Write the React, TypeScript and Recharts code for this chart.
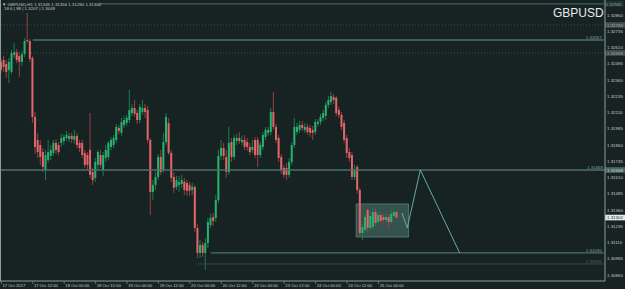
import React from "react";
import {
  ComposedChart,
  Bar,
  Line,
  XAxis,
  YAxis,
  ReferenceLine,
  ReferenceArea,
} from "recharts";

// GBPUSD H1, 17 Oct 2017 00:00 -> 25 Oct 2017 07:00 (152 bars)
const opens = [
  1.32499, 1.32514, 1.32483, 1.32437, 1.32422, 1.32552, 1.32575, 1.32545, 1.32499, 1.3256,
  1.32668, 1.3266, 1.32529, 1.32076, 1.31899, 1.3186, 1.31806, 1.31668, 1.31745, 1.31776,
  1.31799, 1.31876, 1.3186, 1.31876, 1.31891, 1.31914, 1.31906, 1.3193, 1.31899, 1.3193,
  1.31876, 1.31876, 1.31799, 1.31783, 1.31822, 1.31653, 1.31607, 1.31707, 1.31783, 1.31668,
  1.3176, 1.31768, 1.31845, 1.3186, 1.31899, 1.31991, 1.31953, 1.32014, 1.32029, 1.32052,
  1.32106, 1.32145, 1.32106, 1.32052, 1.32114, 1.32145, 1.32129, 1.31899, 1.31499, 1.31553,
  1.31614, 1.31768, 1.31668, 1.31883, 1.32029, 1.31799, 1.31614, 1.31537, 1.31553, 1.3156,
  1.31576, 1.31568, 1.31553, 1.31514, 1.31537, 1.31222, 1.3103, 1.31091, 1.3103, 1.31106,
  1.31245, 1.31306, 1.31299, 1.31437, 1.31776, 1.31837, 1.31768, 1.31653, 1.31883, 1.31768,
  1.31891, 1.31914, 1.31883, 1.31899, 1.31883, 1.31845, 1.31822, 1.31899, 1.31899, 1.31783,
  1.31845, 1.31922, 1.31953, 1.3196, 1.32114, 1.31999, 1.31914, 1.31768, 1.31684, 1.31684,
  1.3163, 1.3173, 1.3186, 1.3196, 1.31976, 1.32014, 1.31976, 1.31999, 1.31991, 1.31976,
  1.3196, 1.32022, 1.32037, 1.32068, 1.32083, 1.32168, 1.32191, 1.32229, 1.32222, 1.32129,
  1.32091, 1.32029, 1.31914, 1.31806, 1.31783, 1.31614, 1.31691, 1.31514, 1.31183, 1.31206,
  1.3136, 1.31222, 1.31229, 1.31345, 1.31268, 1.31322, 1.31306, 1.31283, 1.31306, 1.31268,
  1.31314, 1.31345,
];
const highs = [
  1.32529, 1.32545, 1.32514, 1.32529, 1.32591, 1.32645, 1.32599, 1.32575, 1.32583, 1.32683,
  1.32875, 1.32675, 1.32545, 1.32114, 1.31953, 1.31899, 1.31837, 1.31822, 1.31899, 1.3186,
  1.31899, 1.31906, 1.31883, 1.31945, 1.31945, 1.31968, 1.31953, 1.31953, 1.31976, 1.31953,
  1.31899, 1.31899, 1.31822, 1.31806, 1.32106, 1.31684, 1.3176, 1.31822, 1.31822, 1.31806,
  1.3186, 1.31891, 1.31922, 1.31937, 1.32022, 1.32014, 1.32068, 1.32083, 1.32091, 1.32283,
  1.32176, 1.32206, 1.32129, 1.32176, 1.32206, 1.32176, 1.3216, 1.31914, 1.31591, 1.31653,
  1.31791, 1.31822, 1.31953, 1.32106, 1.32068, 1.31822, 1.31653, 1.31622, 1.31622, 1.3163,
  1.31607, 1.31591, 1.31576, 1.31568, 1.31553, 1.31253, 1.31129, 1.31114, 1.31145, 1.31299,
  1.3133, 1.31337, 1.31476, 1.31822, 1.31899, 1.31876, 1.31822, 1.31999, 1.31914, 1.31937,
  1.31945, 1.3196, 1.3193, 1.31937, 1.31914, 1.31876, 1.31899, 1.31922, 1.31922, 1.31883,
  1.3196, 1.31999, 1.31999, 1.32145, 1.32268, 1.32022, 1.31937, 1.31791, 1.31707, 1.31722,
  1.3176, 1.31883, 1.32068, 1.32029, 1.32045, 1.32045, 1.32029, 1.32022, 1.32014, 1.32006,
  1.3206, 1.3206, 1.32099, 1.32129, 1.32191, 1.32237, 1.32268, 1.32252, 1.32237, 1.32153,
  1.32114, 1.32052, 1.31937, 1.31837, 1.31806, 1.31707, 1.31707, 1.3153, 1.31253, 1.31337,
  1.31376, 1.31345, 1.31376, 1.31368, 1.31345, 1.31345, 1.3133, 1.3133, 1.3133, 1.3136,
  1.31368, 1.31356,
];
const lows = [
  1.32414, 1.32422, 1.32376, 1.32337, 1.32406, 1.32529, 1.32491, 1.32383, 1.32468, 1.32537,
  1.32645, 1.32499, 1.32029, 1.31791, 1.3176, 1.31707, 1.31653, 1.31591, 1.31722, 1.31745,
  1.31776, 1.31791, 1.31783, 1.31845, 1.3186, 1.31891, 1.31883, 1.31876, 1.31868, 1.31837,
  1.31806, 1.3176, 1.31684, 1.31668, 1.31607, 1.31553, 1.31576, 1.31668, 1.31684, 1.31622,
  1.3173, 1.31745, 1.31822, 1.31837, 1.31876, 1.31945, 1.3193, 1.31991, 1.32006, 1.32029,
  1.32083, 1.32076, 1.32022, 1.32029, 1.32091, 1.32068, 1.31876, 1.31322, 1.31437, 1.31514,
  1.31591, 1.3163, 1.31645, 1.3186, 1.31783, 1.31576, 1.31491, 1.31514, 1.31499, 1.3153,
  1.31476, 1.31468, 1.31468, 1.31476, 1.31191, 1.30991, 1.30991, 1.30999, 1.30899, 1.31068,
  1.31222, 1.31237, 1.31268, 1.31414, 1.31745, 1.31745, 1.31607, 1.3163, 1.3173, 1.31745,
  1.3186, 1.31868, 1.3186, 1.31822, 1.31814, 1.31783, 1.31799, 1.3176, 1.31691, 1.3176,
  1.31822, 1.31899, 1.3193, 1.31937, 1.31976, 1.31876, 1.3173, 1.31637, 1.31607, 1.31591,
  1.31607, 1.31707, 1.31837, 1.31937, 1.31953, 1.31968, 1.31953, 1.31937, 1.31922, 1.31899,
  1.31937, 1.31999, 1.32014, 1.32045, 1.32052, 1.32145, 1.32168, 1.32176, 1.32083, 1.32068,
  1.31976, 1.31876, 1.3176, 1.3173, 1.31591, 1.31591, 1.31491, 1.31152, 1.31129, 1.31183,
  1.31191, 1.31206, 1.31206, 1.31237, 1.31245, 1.31253, 1.3126, 1.31268, 1.31206, 1.31253,
  1.31299, 1.3129,
];
const closes = [
  1.32437, 1.3246, 1.32422, 1.32499, 1.32568, 1.32575, 1.32514, 1.32499, 1.3256, 1.3266,
  1.3266, 1.32522, 1.32076, 1.31845, 1.31806, 1.31768, 1.31691, 1.31783, 1.31806, 1.31822,
  1.31876, 1.31822, 1.31806, 1.31914, 1.31922, 1.31937, 1.3193, 1.31906, 1.3193, 1.3186,
  1.31837, 1.31783, 1.31707, 1.31707, 1.3163, 1.31591, 1.3173, 1.31806, 1.31707, 1.31783,
  1.31822, 1.31876, 1.31899, 1.31914, 1.31999, 1.31968, 1.32037, 1.32052, 1.32068, 1.32129,
  1.32145, 1.32099, 1.32052, 1.32153, 1.32145, 1.32114, 1.31899, 1.31499, 1.31553, 1.31614,
  1.31768, 1.31653, 1.31883, 1.32076, 1.31799, 1.31607, 1.3153, 1.31591, 1.31576, 1.31591,
  1.31514, 1.31507, 1.31507, 1.31537, 1.31222, 1.3103, 1.31091, 1.3103, 1.31106, 1.31268,
  1.31299, 1.31276, 1.31437, 1.31776, 1.31837, 1.31776, 1.31653, 1.31876, 1.31768, 1.31914,
  1.31914, 1.31891, 1.31899, 1.31845, 1.31845, 1.31806, 1.31845, 1.31783, 1.31783, 1.3186,
  1.31937, 1.31976, 1.31976, 1.32114, 1.31999, 1.31899, 1.3176, 1.31668, 1.3163, 1.3163,
  1.3173, 1.3186, 1.31999, 1.31999, 1.32014, 1.31991, 1.31999, 1.3196, 1.31953, 1.31953,
  1.32037, 1.32037, 1.32076, 1.32106, 1.32168, 1.32206, 1.32237, 1.32206, 1.32106, 1.32091,
  1.31999, 1.31899, 1.31799, 1.3176, 1.31614, 1.31668, 1.31514, 1.31183, 1.31229, 1.31306,
  1.31222, 1.31314, 1.31345, 1.3126, 1.31322, 1.31276, 1.31283, 1.31306, 1.31268, 1.3133,
  1.31345, 1.31302,
];

// time axis: one label every 12 bars
const timeTicks = [0, 12, 24, 36, 48, 60, 72, 84, 96, 108, 120, 132, 144];
const timeLabels = [
  "17 Oct 2017", "17 Oct 12:00", "18 Oct 00:00", "18 Oct 12:00", "19 Oct 00:00",
  "19 Oct 12:00", "20 Oct 00:00", "20 Oct 12:00", "23 Oct 00:00", "23 Oct 12:00",
  "24 Oct 00:00", "24 Oct 12:00", "25 Oct 00:00",
];
const priceTicks = [
  1.3086, 1.30985, 1.3111, 1.31235, 1.3136, 1.31485, 1.3161, 1.31735, 1.3186,
  1.31985, 1.3211, 1.32235, 1.3236, 1.32485, 1.3261, 1.32735, 1.3286,
];

// projected path drawn on the chart
const zigSlots = [153, 155, 160, 175];
const zigPrices = [1.31337, 1.31222, 1.31668, 1.3103];

// consolidation box
const boxSlots = [136, 155];
const boxPrices = [1.31152, 1.31407];

const SLOTS = 231;
const BG = "#172322";
const FRAME = "#8c9c9a";
const LEVEL = "#4f716e";
const TXT = "#c4c8c8";
const UP = "#26b36f";
const DOWN = "#e5636a";
const UP_WICK = "#1d7a50";
const DOWN_WICK = "#93423f";
const FONT = "'Liberation Sans', Arial, sans-serif";

const data = Array.from({ length: SLOTS }, (_, i) => {
  const row: any = { slot: i };
  if (i < opens.length) {
    row.range = [lows[i], highs[i]];
    row.o = opens[i];
    row.h = highs[i];
    row.l = lows[i];
    row.c = closes[i];
  }
  const z = zigSlots.indexOf(i);
  if (z >= 0) row.zz = zigPrices[z];
  return row;
});

const Candle = (props: any) => {
  const { x, y, width, height, payload } = props;
  if (!payload || payload.o == null) return null;
  const top = Math.min(y, y + height);
  const bot = Math.max(y, y + height);
  const span = payload.h - payload.l || 1e-9;
  const py = (v: number) => top + ((payload.h - v) / span) * (bot - top);
  const up = payload.c >= payload.o;
  const bTop = py(Math.max(payload.o, payload.c));
  const bBot = py(Math.min(payload.o, payload.c));
  const cx = x + width / 2;
  return (
    <g>
      <line x1={cx} x2={cx} y1={top} y2={bot} stroke={up ? UP_WICK : DOWN_WICK} strokeWidth={1} />
      <rect x={cx - 1} y={bTop} width={2} height={Math.max(1, bBot - bTop)} fill={up ? UP : DOWN} />
    </g>
  );
};

// label for a level line: small text above the line and/or a box on the price scale
const levelTag =
  (opts: { text?: string; textColor?: string; box?: string; boxFill?: string; boxColor?: string }) =>
  (p: any) => {
    const vb = p.viewBox || {};
    const right = (vb.x || 0) + (vb.width || 0);
    const yy = vb.y || 0;
    return (
      <g fontFamily={FONT}>
        {opts.text && (
          <text x={right - 2} y={yy - 1.4} textAnchor="end" fontSize={4.4} fill={opts.textColor || "#7ea3a0"}>
            {opts.text}
          </text>
        )}
        {opts.box && (
          <g>
            <rect x={right} y={yy - 2.8} width={20} height={5.6} fill={opts.boxFill} />
            <text x={right + 2} y={yy + 1.6} fontSize={4.4} fill={opts.boxColor}>
              {opts.box}
            </text>
          </g>
        )}
      </g>
    );
  };

const TimeTick = (props: any) => {
  const { x, y, payload } = props;
  const idx = timeTicks.indexOf(payload.value);
  return (
    <g>
      <line x1={x} x2={x} y1={y} y2={y + 3} stroke={FRAME} strokeWidth={0.6} />
      <text x={x + 1.2} y={y + 6.2} fontSize={4.2} fill={TXT} fontFamily={FONT}>
        {idx >= 0 ? timeLabels[idx] : ""}
      </text>
    </g>
  );
};

const PriceTick = (props: any) => {
  const { x, y, payload } = props;
  return (
    <text x={x + 2} y={y + 1.6} fontSize={4.4} fill={TXT} fontFamily={FONT}>
      {Number(payload.value).toFixed(5)}
    </text>
  );
};

export default function App() {
  return (
    <div style={{ position: "absolute", left: 0, top: 0, width: 625, height: 289, background: BG }}>
      <ComposedChart
        width={625}
        height={289}
        data={data}
        margin={{ top: 0, right: 0, bottom: 0, left: 0 }}
        barCategoryGap={0}
      >
        <XAxis
          dataKey="slot"
          type="category"
          ticks={timeTicks}
          interval={0}
          height={8}
          tickSize={0}
          tickMargin={0}
          tick={<TimeTick />}
          axisLine={{ stroke: FRAME, strokeWidth: 1 }}
          tickLine={false}
        />
        <YAxis
          orientation="right"
          width={20}
          domain={[1.30814, 1.32975]}
          allowDataOverflow
          ticks={priceTicks}
          interval={0}
          tickSize={0}
          tickMargin={0}
          tick={<PriceTick />}
          axisLine={{ stroke: FRAME, strokeWidth: 1 }}
          tickLine={false}
        />

        <ReferenceLine y={1.32783} stroke="#3e4f4e" strokeDasharray="1 2" label={levelTag({ box: "1.32783", boxFill: "#44504f", boxColor: "#9aa5a4" })} />
        <ReferenceLine y={1.32568} stroke="#3e4f4e" strokeDasharray="1 2" label={levelTag({ box: "1.32568", boxFill: "#44504f", boxColor: "#9aa5a4" })} />
        <ReferenceLine
          segment={[{ x: 37, y: 1.32945 }, { x: 230, y: 1.32945 }]}
          stroke={LEVEL}
          strokeWidth={1}
          label={levelTag({ box: "1.32945", boxFill: "#243433", boxColor: "#7ea3a0" })}
        />
        <ReferenceLine
          segment={[{ x: 12, y: 1.32667 }, { x: 230, y: 1.32667 }]}
          stroke={LEVEL}
          strokeWidth={1.6}
          label={levelTag({ text: "1.32667" })}
        />
        <ReferenceLine
          y={1.31668}
          stroke={LEVEL}
          strokeWidth={1.4}
          label={levelTag({ text: "1.31668", box: "1.31668", boxFill: "#4b6664", boxColor: "#c9d2d1" })}
        />
        <ReferenceLine
          segment={[{ x: 80, y: 1.3103 }, { x: 230, y: 1.3103 }]}
          stroke={LEVEL}
          strokeWidth={1.4}
          label={levelTag({ text: "1.31030" })}
        />
        <ReferenceLine
          segment={[{ x: 75, y: 1.30945 }, { x: 230, y: 1.30945 }]}
          stroke="#34494a"
          strokeWidth={1}
          label={levelTag({ text: "1.30945", textColor: "#4d6867" })}
        />
        <ReferenceLine
          y={closes[closes.length - 1]}
          stroke="transparent"
          label={levelTag({ box: closes[closes.length - 1].toFixed(5), boxFill: "#e6eaea", boxColor: "#1c2a29" })}
        />

        <ReferenceArea
          x1={boxSlots[0]}
          x2={boxSlots[1]}
          y1={boxPrices[0]}
          y2={boxPrices[1]}
          fill="#5a8c88"
          fillOpacity={0.45}
          stroke="#79aaa6"
          strokeOpacity={0.5}
        />

        <Bar dataKey="range" barSize={2} shape={<Candle />} isAnimationActive={false} />
        <Line
          dataKey="zz"
          connectNulls
          dot={false}
          stroke="#66aba8"
          strokeWidth={1}
          isAnimationActive={false}
        />
      </ComposedChart>

      <svg
        width={625}
        height={289}
        style={{ position: "absolute", left: 0, top: 0, pointerEvents: "none" }}
      >
        <line x1={0.5} x2={0.5} y1={0} y2={281} stroke={FRAME} strokeWidth={1} />
        <text x={2} y={5.6} fontSize={4.4} fill={TXT} fontFamily={FONT}>
          ▼ GBPUSD,H1  1.31345 1.31356 1.31290 1.31302
        </text>
        <text x={4} y={10} fontSize={4.4} fill={TXT} fontFamily={FONT}>
          18.6  |  88  |  1.3207  |  1.3049
        </text>
        <text x={553} y={17} fontSize={12} fill="#e8ecec" fontFamily={FONT}>
          GBPUSD
        </text>
      </svg>
    </div>
  );
}
